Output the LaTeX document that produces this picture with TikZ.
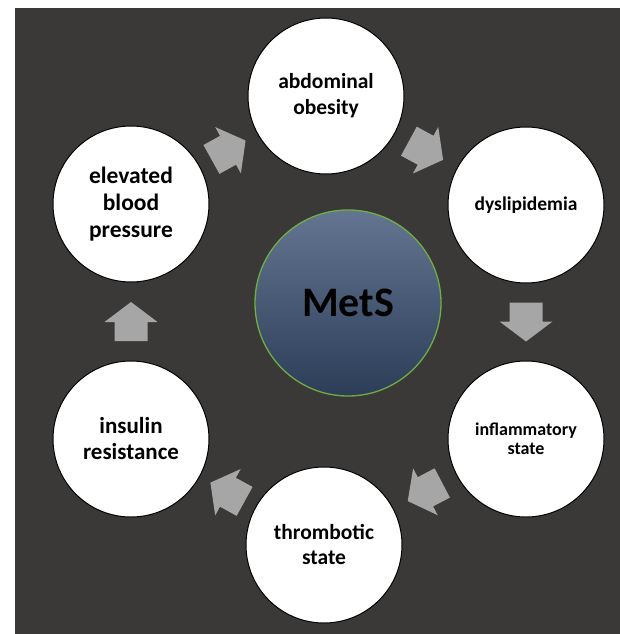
\documentclass[tikz,border=0pt]{standalone}
\usepackage{fontspec}
\setmainfont{Carlito}
\usetikzlibrary{calc}
\definecolor{BgDark}{HTML}{3A3937}
\definecolor{ArrowGray}{HTML}{A6A6A6}
\definecolor{HubTop}{HTML}{637590}
\definecolor{HubBottom}{HTML}{2C3D58}
\definecolor{HubRim}{HTML}{6FAE45}

\begin{document}
\begin{tikzpicture}[
    x=1pt, y=-1pt,
    factor/.style={circle, draw=black, line width=1pt, fill=white, minimum size=156pt, inner sep=0pt, align=center},
    hub/.style={circle, draw=HubRim, line width=1.3pt, top color=HubTop, bottom color=HubBottom, minimum size=186pt, inner sep=0pt, font=\fontsize{42}{48}\selectfont\bfseries},
    cyclearrow/.pic={\fill[ArrowGray] (-19.5,-16.5) -- (-0.5,-16.5) -- (-0.5,-26.5) -- (19.5,0) -- (-0.5,26.5) -- (-0.5,16.5) -- (-19.5,16.5) -- cycle;}
]
\useasboundingbox (0,0) rectangle (620,634);
\fill[BgDark] (15,8) rectangle (620,634);

\node[factor, font=\fontsize{21.5}{26}\selectfont\bfseries] (abd) at (326,96) {abdominal\\obesity};
\node[factor, font=\fontsize{19.5}{24}\selectfont\bfseries] (dys) at (526,205) {dyslipidemia};
\node[factor, font=\fontsize{18}{19}\selectfont\bfseries] (infl) at (526,439) {inflammatory\\state};
\node[factor, font=\fontsize{21.5}{25}\selectfont\bfseries] (thromb) at (324,545) {thrombotic\\state};
\node[factor, font=\fontsize{23}{26}\selectfont\bfseries] (ins) at (131,439) {insulin\\resistance};
\node[factor, font=\fontsize{23.5}{27}\selectfont\bfseries] (elev) at (131,204) {elevated\\blood\\pressure};
\node[hub] (mets) at (348,303) {MetS};

\path (elev) -- (abd) pic[pos=0.5, sloped, allow upside down] {cyclearrow};
\path (abd) -- (dys) pic[pos=0.5, sloped, allow upside down] {cyclearrow};
\path (dys) -- (infl) pic[pos=0.5, sloped, allow upside down] {cyclearrow};
\path (infl) -- (thromb) pic[pos=0.5, sloped, allow upside down] {cyclearrow};
\path (thromb) -- (ins) pic[pos=0.5, sloped, allow upside down] {cyclearrow};
\path (ins) -- (elev) pic[pos=0.5, sloped, allow upside down] {cyclearrow};
\end{tikzpicture}
\end{document}
